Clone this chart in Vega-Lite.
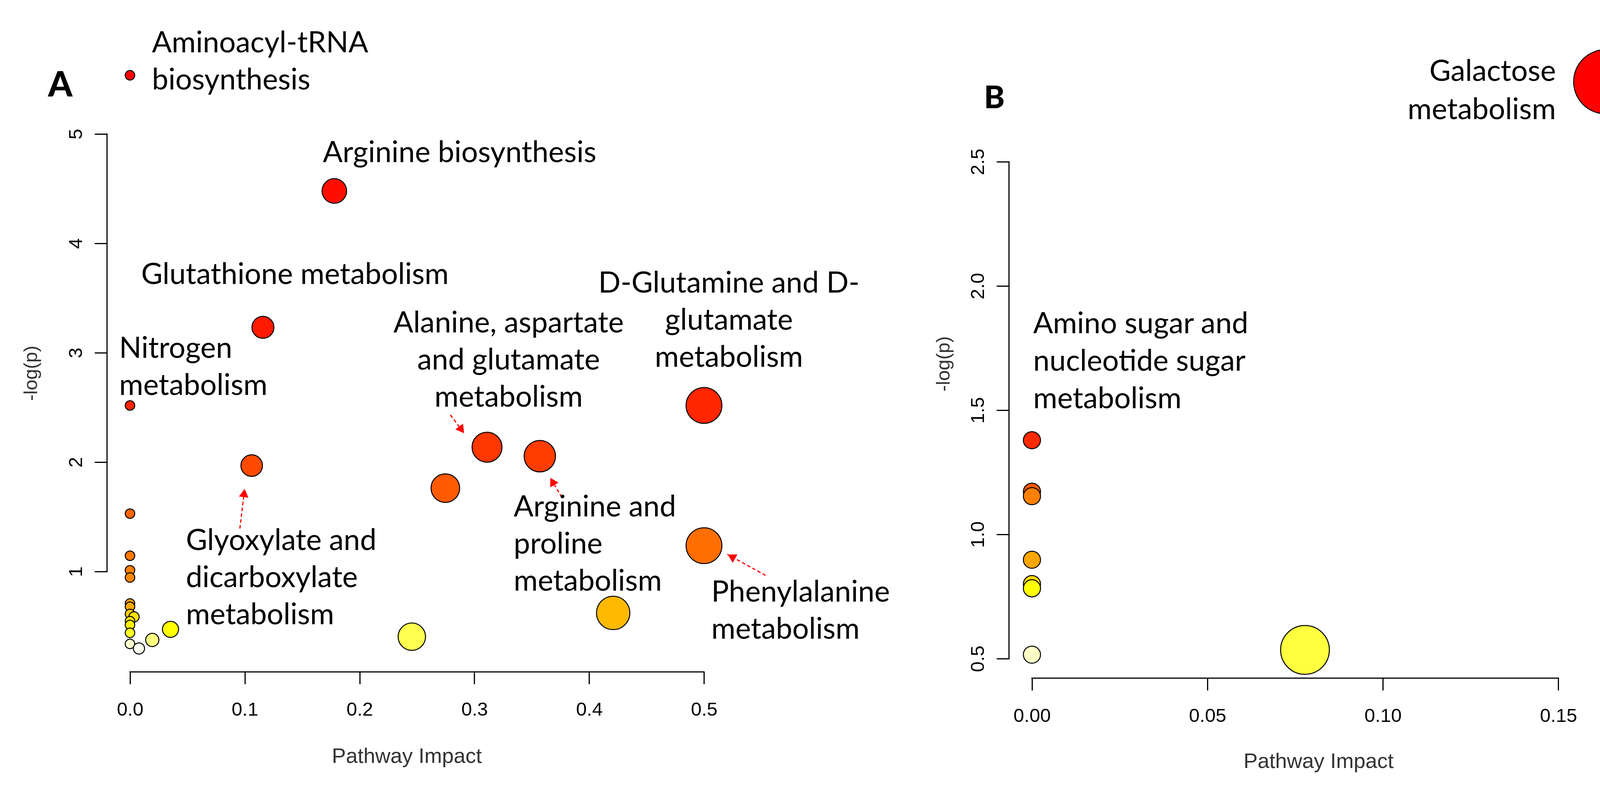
{
  "$schema": "https://vega.github.io/schema/vega-lite/v6.json",
  "background": "white",
  "autosize": {"type": "none"},
  "padding": {"left": 274, "top": 134, "right": 3990, "bottom": 1896},
  "bounds": "flush",
  "spacing": 722,
  "config": {
    "view": {"stroke": null},
    "axis": {"grid": false, "domain": false}
  },
  "resolve": {"scale": {"x": "independent", "y": "independent", "color": "independent", "size": "independent"}},
  "datasets": {
    "pathA": [
      {"pathway": "Aminoacyl-tRNA biosynthesis", "x": 0, "y": 5.536},
      {"pathway": "Arginine biosynthesis", "x": 0.178, "y": 4.479},
      {"pathway": "Glutathione metabolism", "x": 0.1158, "y": 3.232},
      {"pathway": "Nitrogen metabolism", "x": 0, "y": 2.518},
      {"pathway": "D-Glutamine and D-glutamate metabolism", "x": 0.5, "y": 2.518},
      {"pathway": "Alanine, aspartate and glutamate metabolism", "x": 0.311, "y": 2.136},
      {"pathway": "Arginine and proline metabolism", "x": 0.357, "y": 2.054},
      {"pathway": "Glyoxylate and dicarboxylate metabolism", "x": 0.106, "y": 1.968},
      {"pathway": "", "x": 0.2747, "y": 1.762},
      {"pathway": "", "x": 0, "y": 1.529},
      {"pathway": "Phenylalanine metabolism", "x": 0.5, "y": 1.236},
      {"pathway": "", "x": 0, "y": 1.144},
      {"pathway": "", "x": 0, "y": 1.011},
      {"pathway": "", "x": 0, "y": 0.945},
      {"pathway": "", "x": 0, "y": 0.707},
      {"pathway": "", "x": 0, "y": 0.678},
      {"pathway": "", "x": 0.4209, "y": 0.621},
      {"pathway": "", "x": 0, "y": 0.612},
      {"pathway": "", "x": 0.0035, "y": 0.585},
      {"pathway": "", "x": 0, "y": 0.546},
      {"pathway": "", "x": 0, "y": 0.511},
      {"pathway": "", "x": 0.0353, "y": 0.471},
      {"pathway": "", "x": 0, "y": 0.439},
      {"pathway": "", "x": 0.2455, "y": 0.404},
      {"pathway": "", "x": 0.0194, "y": 0.374},
      {"pathway": "", "x": 0, "y": 0.338},
      {"pathway": "", "x": 0.0078, "y": 0.296}
    ],
    "pathB": [
      {"pathway": "Galactose metabolism", "x": 0.1635, "y": 2.822},
      {"pathway": "Amino sugar and nucleotide sugar metabolism", "x": 0, "y": 1.379},
      {"pathway": "", "x": 0, "y": 1.172},
      {"pathway": "", "x": 0, "y": 1.154},
      {"pathway": "", "x": 0, "y": 0.898},
      {"pathway": "", "x": 0, "y": 0.800},
      {"pathway": "", "x": 0, "y": 0.783},
      {"pathway": "", "x": 0.0778, "y": 0.535},
      {"pathway": "", "x": 0, "y": 0.516}
    ],
    "axisLinesA": [
      {"x": 0, "y": 0.082, "x2": 0.5, "y2": 0.082},
      {"x": -0.02, "y": 1, "x2": -0.02, "y2": 5}
    ],
    "axisLinesB": [
      {"x": 0, "y": 0.4214, "x2": 0.15, "y2": 0.4214},
      {"x": -0.00654, "y": 0.5, "x2": -0.00654, "y2": 2.5}
    ],
    "arrowsA": [
      {"x": 0.0957, "y": 1.3926, "x2": 0.09994, "y2": 1.7604},
      {"x": 0.2791, "y": 2.4318, "x2": 0.2913, "y2": 2.2604},
      {"x": 0.3761, "y": 1.6783, "x2": 0.3659, "y2": 1.8605},
      {"x": 0.5537, "y": 0.9641, "x2": 0.5203, "y2": 1.1569}
    ],
    "headsA": [
      {"x": 0.09947, "y": 1.7179, "dir": 7},
      {"x": 0.2889, "y": 2.2947, "dir": 143},
      {"x": 0.3679, "y": 1.8236, "dir": 330},
      {"x": 0.5239, "y": 1.1362, "dir": 299}
    ],
    "labelsALeft": [
      {"x": 0.0191, "y": 5.746, "label": "Aminoacyl-tRNA\nbiosynthesis"},
      {"x": -0.00945, "y": 2.953, "label": "Nitrogen\nmetabolism"},
      {"x": 0.0487, "y": 1.196, "label": "Glyoxylate and\ndicarboxylate\nmetabolism"},
      {"x": 0.3342, "y": 1.505, "label": "Arginine and\nproline\nmetabolism"},
      {"x": 0.5064, "y": 0.725, "label": "Phenylalanine\nmetabolism"}
    ],
    "labelsACenter": [
      {"x": 0.2871, "y": 4.742, "label": "Arginine biosynthesis"},
      {"x": 0.1437, "y": 3.628, "label": "Glutathione metabolism"},
      {"x": 0.3298, "y": 3.185, "label": "Alanine, aspartate\nand glutamate\nmetabolism"},
      {"x": 0.5217, "y": 3.55, "label": "D-Glutamine and D-\nglutamate\nmetabolism"}
    ],
    "letterA": [{"x": -0.0714, "y": 5.342, "label": "A"}],
    "labelsBLeft": [{"x": 0.00036, "y": 1.8098, "label": "Amino sugar and\nnucleotide sugar\nmetabolism"}],
    "labelsBRight": [{"x": 0.1493, "y": 2.8255, "label": "Galactose\nmetabolism"}],
    "letterB": [{"x": -0.01366, "y": 2.7155, "label": "B"}]
  },
  "hconcat": [
    {
      "width": 1587,
      "height": 1586,
      "encoding": {
        "x": {
          "field": "x", "type": "quantitative",
          "scale": {"domain": [-0.02, 0.52], "nice": false, "zero": false},
          "axis": {
            "title": "Pathway Impact", "values": [0, 0.1, 0.2, 0.3, 0.4, 0.5], "format": ".1f",
            "domain": false, "grid": false,
            "ticks": true, "tickSize": 31, "tickWidth": 3, "tickColor": "black",
            "labelFont": "Liberation Sans", "labelFontSize": 49, "labelColor": "black",
            "labelBaseline": "alphabetic", "labelPadding": 80, "labelFlush": false, "labelOverlap": false,
            "titleFont": "Liberation Sans", "titleFontSize": 54, "titleFontWeight": "normal", "titleColor": "#333333",
            "titleX": 767, "titleY": 232, "titleBaseline": "alphabetic", "titleAlign": "center"
          }
        },
        "y": {
          "field": "y", "type": "quantitative",
          "scale": {"domain": [0.082, 5.746], "nice": false, "zero": false},
          "axis": {
            "title": "-log(p)", "values": [1, 2, 3, 4, 5], "format": "d",
            "domain": false, "grid": false,
            "ticks": true, "tickSize": 32, "tickWidth": 3, "tickColor": "black",
            "labelFont": "Liberation Sans", "labelFontSize": 49, "labelColor": "black",
            "labelAngle": 270, "labelAlign": "center", "labelBaseline": "alphabetic", "labelPadding": 33,
            "labelFlush": false, "labelOverlap": false,
            "titleFont": "Liberation Sans", "titleFontSize": 49, "titleFontWeight": "normal", "titleColor": "#333333",
            "titleAngle": 270, "titleX": -180, "titleY": 821, "titleBaseline": "alphabetic", "titleAlign": "center"
          }
        }
      },
      "layer": [
        {
          "data": {"name": "axisLinesA"},
          "mark": {"type": "rule", "color": "black", "strokeWidth": 3, "strokeCap": "square"},
          "encoding": {"x2": {"field": "x2"}, "y2": {"field": "y2"}}
        },
        {
          "data": {"name": "pathA"},
          "mark": {"type": "circle", "opacity": 1, "stroke": "black", "strokeWidth": 2.5},
          "encoding": {
            "size": {
              "field": "x", "type": "quantitative", "legend": null,
              "scale": {"domain": [0, 0.008, 0.02, 0.035, 0.1, 0.2, 0.3, 0.4, 0.5], "range": [594, 830, 1164, 1698, 2971, 4243, 5741, 7014, 8413], "zero": false}
            },
            "color": {
              "field": "y", "type": "quantitative", "legend": null,
              "scale": {
                "domain": [0.296, 0.338, 0.374, 0.404, 0.471, 0.511, 0.546, 0.585, 0.612, 0.621, 0.678, 0.707, 0.945, 1.011, 1.144, 1.236, 1.529, 1.762, 1.968, 2.054, 2.136, 2.518, 3.232, 4.479, 5.536],
                "range": ["#FFFFF0", "#FFFFD0", "#FFFF80", "#FFFF50", "#FFFF00", "#FFF000", "#FFE800", "#FFE000", "#FFD000", "#FFBA00", "#FFA800", "#FF9D00", "#FF8800", "#FF8000", "#FF7800", "#FF6E00", "#FF6400", "#FF5A00", "#FF4A00", "#FF3D00", "#FF3800", "#FF2600", "#FF1A00", "#FF0D00", "#FF0000"],
                "interpolate": "rgb", "zero": false
              }
            }
          }
        },
        {
          "data": {"name": "arrowsA"},
          "mark": {"type": "rule", "color": "#FF0000", "strokeWidth": 3, "strokeDash": [9, 6]},
          "encoding": {"x2": {"field": "x2"}, "y2": {"field": "y2"}}
        },
        {
          "data": {"name": "headsA"},
          "mark": {"type": "point", "shape": "triangle-up", "filled": true, "color": "#FF0000", "opacity": 1, "size": 600},
          "encoding": {"angle": {"field": "dir", "type": "quantitative", "scale": null}}
        },
        {
          "data": {"name": "labelsALeft"},
          "mark": {"type": "text", "font": "Lato", "fontSize": 75, "lineHeight": 95, "lineBreak": "\n", "align": "left", "baseline": "alphabetic", "color": "black"},
          "encoding": {"text": {"field": "label", "type": "nominal"}}
        },
        {
          "data": {"name": "labelsACenter"},
          "mark": {"type": "text", "font": "Lato", "fontSize": 75, "lineHeight": 95, "lineBreak": "\n", "align": "center", "baseline": "alphabetic", "color": "black"},
          "encoding": {"text": {"field": "label", "type": "nominal"}}
        },
        {
          "data": {"name": "letterA"},
          "mark": {"type": "text", "font": "Lato", "fontSize": 89, "fontWeight": 900, "align": "left", "baseline": "alphabetic", "color": "black"},
          "encoding": {"text": {"field": "label", "type": "nominal"}}
        }
      ]
    },
    {
      "width": 1587,
      "height": 1602,
      "encoding": {
        "x": {
          "field": "x", "type": "quantitative",
          "scale": {"domain": [-0.00654, 0.1701], "nice": false, "zero": false},
          "axis": {
            "title": "Pathway Impact", "values": [0, 0.05, 0.1, 0.15], "format": ".2f",
            "domain": false, "grid": false,
            "ticks": true, "tickSize": 31, "tickWidth": 3, "tickColor": "black",
            "labelFont": "Liberation Sans", "labelFontSize": 49, "labelColor": "black",
            "labelBaseline": "alphabetic", "labelPadding": 80, "labelFlush": false, "labelOverlap": false,
            "titleFont": "Liberation Sans", "titleFontSize": 54, "titleFontWeight": "normal", "titleColor": "#333333",
            "titleX": 792, "titleY": 229, "titleBaseline": "alphabetic", "titleAlign": "center"
          }
        },
        "y": {
          "field": "y", "type": "quantitative",
          "scale": {"domain": [0.4214, 2.9403], "nice": false, "zero": false},
          "axis": {
            "title": "-log(p)", "values": [0.5, 1, 1.5, 2, 2.5], "format": ".1f",
            "domain": false, "grid": false,
            "ticks": true, "tickSize": 32, "tickWidth": 3, "tickColor": "black",
            "labelFont": "Liberation Sans", "labelFontSize": 49, "labelColor": "black",
            "labelAngle": 270, "labelAlign": "center", "labelBaseline": "alphabetic", "labelPadding": 33,
            "labelFlush": false, "labelOverlap": false,
            "titleFont": "Liberation Sans", "titleFontSize": 49, "titleFontWeight": "normal", "titleColor": "#333333",
            "titleAngle": 270, "titleX": -153, "titleY": 797, "titleBaseline": "alphabetic", "titleAlign": "center"
          }
        }
      },
      "layer": [
        {
          "data": {"name": "axisLinesB"},
          "mark": {"type": "rule", "color": "black", "strokeWidth": 3, "strokeCap": "square"},
          "encoding": {"x2": {"field": "x2"}, "y2": {"field": "y2"}}
        },
        {
          "data": {"name": "pathB"},
          "mark": {"type": "circle", "opacity": 1, "stroke": "black", "strokeWidth": 2.5},
          "encoding": {
            "size": {
              "field": "x", "type": "quantitative", "legend": null,
              "scale": {"domain": [0, 0.02, 0.05, 0.078, 0.12, 0.1635], "range": [1924, 7163, 11594, 15615, 21253, 27026], "zero": false}
            },
            "color": {
              "field": "y", "type": "quantitative", "legend": null,
              "scale": {
                "domain": [0.516, 0.535, 0.783, 0.8, 0.898, 1.154, 1.172, 1.379, 2.822],
                "range": ["#FFFFC8", "#FFFF40", "#FFFF00", "#FFD700", "#FFA500", "#FF8000", "#FF5A00", "#FF2A00", "#FF0000"],
                "interpolate": "rgb", "zero": false
              }
            }
          }
        },
        {
          "data": {"name": "labelsBLeft"},
          "mark": {"type": "text", "font": "Lato", "fontSize": 75, "lineHeight": 96, "lineBreak": "\n", "align": "left", "baseline": "alphabetic", "color": "black"},
          "encoding": {"text": {"field": "label", "type": "nominal"}}
        },
        {
          "data": {"name": "labelsBRight"},
          "mark": {"type": "text", "font": "Lato", "fontSize": 75, "lineHeight": 98, "lineBreak": "\n", "align": "right", "baseline": "alphabetic", "color": "black"},
          "encoding": {"text": {"field": "label", "type": "nominal"}}
        },
        {
          "data": {"name": "letterB"},
          "mark": {"type": "text", "font": "Lato", "fontSize": 80, "fontWeight": 900, "align": "left", "baseline": "alphabetic", "color": "black"},
          "encoding": {"text": {"field": "label", "type": "nominal"}}
        }
      ]
    }
  ]
}
